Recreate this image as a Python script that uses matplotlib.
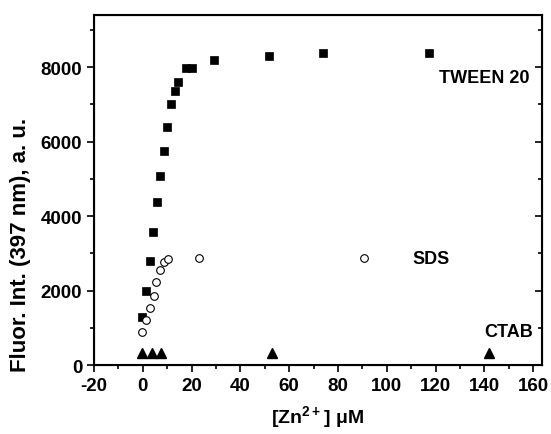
import numpy as np
import matplotlib
matplotlib.use("Agg")
import matplotlib.pyplot as plt
from matplotlib.ticker import MultipleLocator

plt.rcParams['font.family'] = ['Liberation Sans', 'DejaVu Sans']
plt.rcParams['font.weight'] = 'bold'
plt.rcParams['mathtext.fontset'] = 'custom'
plt.rcParams['mathtext.rm'] = 'Liberation Sans:bold'
plt.rcParams['mathtext.default'] = 'rm'
plt.rcParams['axes.unicode_minus'] = False

# TWEEN 20 (filled squares)
tween_x = [-0.2, 1.4, 2.9, 4.3, 5.7, 7.1, 8.6, 10.1, 11.6, 13.1, 14.5, 17.8, 20.2, 29.3, 51.6, 73.8, 117.5]
tween_y = [1280, 1995, 2785, 3560, 4370, 5080, 5750, 6380, 7010, 7350, 7590, 7975, 7975, 8200, 8295, 8375, 8375]

# SDS (open circles)
sds_x = [-0.2, 1.4, 2.9, 4.4, 5.6, 7.1, 8.6, 10.2, 23.0, 90.6]
sds_y = [877, 1208, 1520, 1843, 2220, 2550, 2757, 2845, 2865, 2865]

# CTAB (filled triangles)
ctab_x = [-0.2, 3.6, 7.3, 53.0, 141.7]
ctab_y = [330, 330, 330, 330, 330]

fig = plt.figure(figsize=(5.51, 4.35), dpi=100)
ax = fig.add_axes([0.1706, 0.1586, 0.8125, 0.8046])

ax.plot(tween_x, tween_y, 's', color='black', ms=5.8, mec='black', mew=0.5, ls='none')
ax.plot(sds_x, sds_y, 'o', mfc='white', mec='black', ms=5.5, mew=0.8, ls='none')
ax.plot(ctab_x, ctab_y, '^', color='black', ms=6.5, ls='none')

# series labels
ax.text(140, 7730, 'TWEEN 20', fontsize=13, fontweight='bold', ha='center', va='center')
ax.text(118.3, 2870, 'SDS', fontsize=13, fontweight='bold', ha='center', va='center')
ax.text(150, 913, 'CTAB', fontsize=13, fontweight='bold', ha='center', va='center')

ax.set_xlim(-20, 163.5)
ax.set_ylim(0, 9400)
ax.xaxis.set_major_locator(MultipleLocator(20))
ax.xaxis.set_minor_locator(MultipleLocator(10))
ax.yaxis.set_major_locator(MultipleLocator(2000))
ax.yaxis.set_minor_locator(MultipleLocator(1000))

ax.tick_params(which='both', direction='out', width=1.2, labelsize=13.5)
ax.tick_params(which='major', length=5)
ax.tick_params(which='minor', length=3)
for lbl in ax.get_xticklabels() + ax.get_yticklabels():
    lbl.set_fontweight('bold')
for s in ax.spines.values():
    s.set_linewidth(1.5)

# inward ticks on the right spine
ax2 = ax.twinx()
ax2.set_ylim(ax.get_ylim())
ax2.yaxis.set_major_locator(MultipleLocator(2000))
ax2.yaxis.set_minor_locator(MultipleLocator(1000))
ax2.tick_params(which='both', direction='in', width=1.2, labelright=False)
ax2.tick_params(which='major', length=5)
ax2.tick_params(which='minor', length=3)

ax.set_xlabel('[Zn$^{2+}$] μM', fontsize=14, fontweight='bold')
ax.set_ylabel('Fluor. Int. (397 nm), a. u.', fontsize=16, fontweight='bold')
ax.xaxis.set_label_coords(0.5, -0.11)
ax.yaxis.set_label_coords(-0.14, 0.346)

fig.savefig('out.png', dpi=100)
